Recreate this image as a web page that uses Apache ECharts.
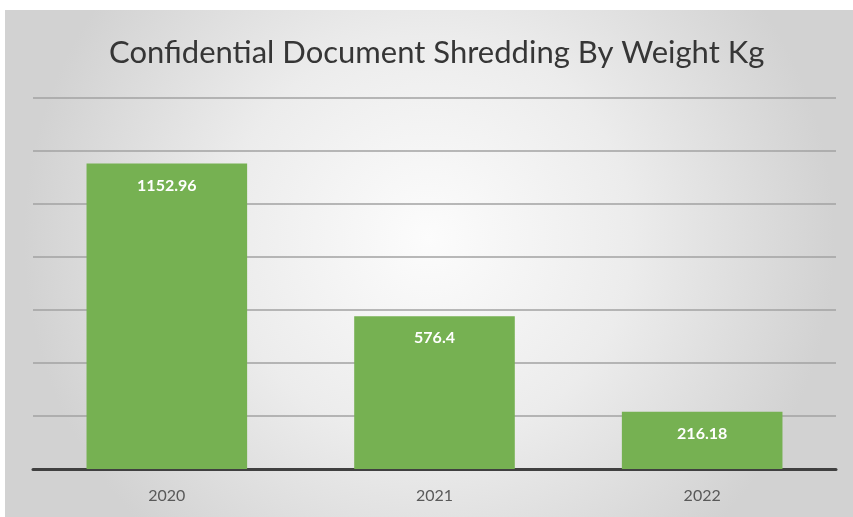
<!DOCTYPE html>
<html>
<head>
<meta charset="utf-8">
<script src="https://cdn.jsdelivr.net/npm/echarts@6/dist/echarts.min.js"></script>
<style>html,body{margin:0;padding:0;background:#fff;}#c{width:853px;height:517px;}</style>
</head>
<body>
<div id="c"></div>
<script>
const titleText = 'Confidential Document Shredding By Weight Kg';
const categories = ['2020', '2021', '2022'];
const weights = [1152.96, 576.4, 216.18];
const labelTexts = ['1152.96', '576.4', '216.18'];

const chart = echarts.init(document.getElementById('c'), null, {renderer: 'canvas'});
chart.setOption({
  animation: false,
  backgroundColor: '#ffffff',
  graphic: [{
    type: 'rect', z: -10, silent: true,
    shape: {x: 5, y: 10, width: 848, height: 507},
    style: {
      fill: {
        type: 'radial', x: 0.5, y: 0.45, r: 0.8,
        colorStops: [{offset: 0, color: '#fcfcfc'}, {offset: 0.5, color: '#ececec'}, {offset: 1, color: '#d2d2d2'}]
      }
    }
  }],
  title: {
    text: titleText, left: 104, top: 32, padding: 5,
    textStyle: {fontFamily: 'Lato', fontSize: 31, fontWeight: 'normal', color: '#363636'}
  },
  grid: {left: 33, right: 17, top: 98, bottom: 48, containLabel: false},
  xAxis: {
    type: 'category', data: categories,
    axisLine: {show: true, lineStyle: {color: '#404040', width: 3}},
    axisTick: {show: false},
    axisLabel: {fontFamily: 'Lato', fontSize: 16, color: '#595959', margin: 19}
  },
  yAxis: {
    type: 'value', min: 0, max: 1400, interval: 200,
    axisLabel: {show: false}, axisLine: {show: false}, axisTick: {show: false},
    splitLine: {lineStyle: {color: '#a2a2a2', width: 1.5}}
  },
  series: [{
    type: 'bar', data: weights, barWidth: '60%',
    itemStyle: {color: '#76b152'},
    label: {
      show: true, position: 'insideTop', distance: 14,
      formatter: p => labelTexts[p.dataIndex],
      fontFamily: 'Lato', fontWeight: 'bold', fontSize: 16, color: '#ffffff'
    }
  }]
});
</script>
</body>
</html>
